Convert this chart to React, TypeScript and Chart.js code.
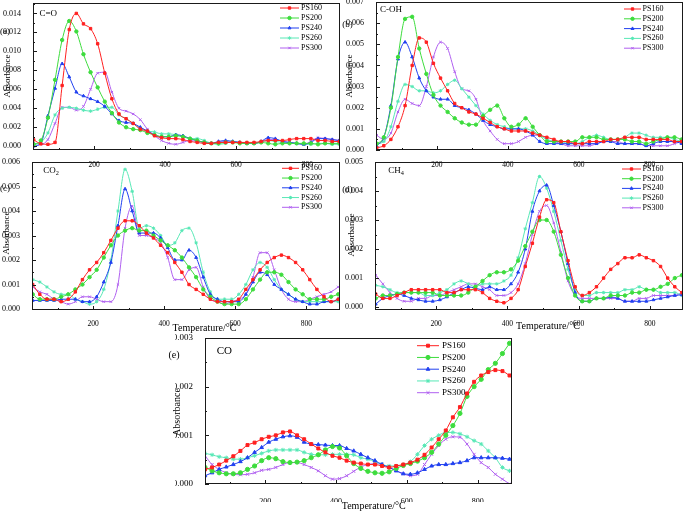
import { useEffect, useRef } from "react";
import { Chart, registerables } from "chart.js";
import { drawPoint } from "chart.js/helpers";

Chart.register(...registerables);

const FONT = '"Liberation Serif", "Times New Roman", serif';
Chart.defaults.font.family = FONT;
Chart.defaults.color = "#000";

// temperature grid (°C)
const temps = [
  30, 50, 70, 90, 110, 130, 150, 170, 190, 210, 230,
  250, 270, 290, 310, 330, 350, 370, 390, 410, 430, 450,
  470, 490, 510, 530, 550, 570, 590, 610, 630, 650, 670,
  690, 710, 730, 750, 770, 790, 810, 830, 850, 870, 890,
];

const seriesNames = ["PS160", "PS200", "PS240", "PS260", "PS300"];
const seriesColors = ["#ff2020", "#3ddc3d", "#2040f0", "#58e8b6", "#b060f0"];
const markerStyles = ["rect", "circle", "triangle", "star", "crossRot"];
const xTickLabels = [200, 400, 600, 800];

// (a) C=O
const coRed = [
  .00067, .00025, .0002, .0004, .0064, .0123, .0140, .0129, .0124, .0108, .0077,
  .0050, .0034, .0029, .0024, .0018, .0016, .0011, .0009, .0008, .0008, .0007,
  .0005, .0004, .0003, .0003, .0004, .0004, .0004, .0004, .0004, .0004, .0005,
  .0006, .0006, .0006, .0007, .0008, .0008, .0008, .0006, .0006, .0005, .0005,
];
const coGreen = [
  .0002, .0006, .0030, .0070, .0112, .0132, .0121, .0097, .0078, .0062, .0047,
  .0035, .0025, .0020, .0018, .0017, .0014, .0012, .0010, .0010, .0011, .0010,
  .0008, .0006, .0004, .0003, .0003, .0004, .0004, .0003, .0003, .0003, .0004,
  .0003, .0002, .0003, .0003, .0003, .0003, .0003, .0002, .0003, .0003, .0003,
];
const coBlue = [
  .0000, .0003, .0032, .0061, .0087, .0073, .0057, .0053, .0050, .0047, .0042,
  .0034, .0027, .0025, .0024, .0020, .0016, .0012, .0010, .0010, .0012, .0011,
  .0008, .0006, .0004, .0003, .0005, .0006, .0005, .0004, .0003, .0003, .0005,
  .0009, .0008, .0005, .0004, .0003, .0002, .0004, .0008, .0008, .0007, .0006,
];
const coCyan = [
  .0002, .0004, .0014, .0033, .0040, .0041, .0040, .0038, .0037, .0039, .0041,
  .0041, .0033, .0029, .0024, .0019, .0016, .0015, .0013, .0013, .0012, .0010,
  .0008, .0008, .0006, .0003, .0002, .0003, .0005, .0004, .0003, .0003, .0004,
  .0006, .0005, .0004, .0003, .0003, .0002, .0002, .0003, .0003, .0002, .0002,
];
const coViolet = [
  .0003, .0002, .0007, .0024, .0041, .0041, .0038, .0042, .0060, .0077, .0078,
  .0057, .0040, .0037, .0034, .0028, .0018, .0011, .0006, .0003, .0002, .0004,
  .0006, .0005, .0004, .0003, .0004, .0005, .0004, .0004, .0003, .0003, .0005,
  .0007, .0007, .0005, .0004, .0003, .0002, .0005, .0009, .0008, .0007, .0006,
];

// (b) C-OH
const ohRed = [
  .0001, .0002, .0005, .0011, .0021, .0040, .0053, .0051, .0041, .0034, .0028,
  .0022, .0020, .0018, .0017, .0015, .0013, .0011, .0010, .0009, .0009, .0009,
  .0008, .0007, .0006, .0005, .0004, .0004, .0003, .0003, .0004, .0004, .0004,
  .0005, .0005, .0006, .0006, .0006, .0005, .0005, .0005, .0005, .0004, .0004,
];
const ohGreen = [
  .0003, .0006, .0020, .0044, .0062, .0063, .0048, .0036, .0026, .0021, .0018,
  .0015, .0013, .0012, .0012, .0016, .0019, .0021, .0015, .0011, .0012, .0015,
  .0011, .0007, .0004, .0004, .0004, .0004, .0004, .0006, .0006, .0006, .0005,
  .0005, .0005, .0005, .0004, .0004, .0003, .0004, .0005, .0006, .0006, .0005,
];
const ohBlue = [
  .0002, .0006, .0021, .0043, .0051, .0044, .0034, .0028, .0025, .0024, .0024,
  .0021, .0020, .0019, .0017, .0014, .0012, .0011, .0010, .0010, .0010, .0009,
  .0007, .0004, .0003, .0003, .0003, .0003, .0003, .0003, .0003, .0003, .0004,
  .0004, .0003, .0003, .0003, .0003, .0002, .0003, .0004, .0004, .0004, .0003,
];
const ohCyan = [
  .0003, .0004, .0011, .0023, .0031, .0030, .0028, .0028, .0027, .0028, .0031,
  .0033, .0029, .0025, .0021, .0017, .0014, .0012, .0011, .0010, .0010, .0010,
  .0009, .0007, .0005, .0004, .0004, .0003, .0003, .0004, .0006, .0007, .0006,
  .0005, .0005, .0006, .0008, .0008, .0007, .0006, .0006, .0006, .0005, .0004,
];
const ohViolet = [
  .0007, .0005, .0008, .0018, .0024, .0022, .0021, .0030, .0044, .0051, .0048,
  .0037, .0029, .0028, .0024, .0014, .0009, .0005, .0003, .0003, .0004, .0006,
  .0007, .0007, .0005, .0004, .0003, .0002, .0002, .0002, .0002, .0003, .0004,
  .0004, .0004, .0003, .0003, .0003, .0002, .0002, .0002, .0002, .0003, .0004,
];

// (c) CO2
const c2Red = [
  .0010, .0006, .0004, .0004, .0003, .0004, .0007, .0012, .0016, .0019, .0023,
  .0028, .0033, .0036, .0036, .0034, .0031, .0029, .0026, .0023, .0019, .0015,
  .0010, .0008, .0006, .0004, .0003, .0003, .0003, .0004, .0008, .0012, .0016,
  .0019, .0021, .0022, .0021, .0019, .0016, .0012, .0008, .0005, .0003, .0004,
];
const c2Green = [
  .0006, .0004, .0004, .0004, .0005, .0006, .0008, .0010, .0013, .0016, .0021,
  .0026, .0030, .0032, .0033, .0032, .0032, .0030, .0028, .0026, .0024, .0021,
  .0017, .0013, .0008, .0005, .0003, .0002, .0002, .0002, .0004, .0008, .0012,
  .0015, .0015, .0014, .0011, .0008, .0006, .0004, .0004, .0004, .0005, .0006,
];
const c2Blue = [
  .00035, .00035, .00035, .00035, .0004, .0004, .0004, .0003, .0003, .0005, .0011,
  .0019, .0034, .0049, .0040, .0031, .0031, .0031, .0029, .0025, .0020, .0020,
  .0024, .0021, .0013, .0006, .0004, .0003, .0003, .0003, .0006, .0011, .0015,
  .0014, .0010, .0008, .0006, .0004, .0003, .0002, .0002, .0003, .0003, .0004,
];
const c2Cyan = [
  .0012, .0011, .0009, .0007, .0006, .0006, .0004, .0003, .0002, .0003, .0008,
  .0020, .0040, .0057, .0048, .0033, .0034, .0033, .0030, .0026, .0027, .0032,
  .0033, .0027, .0015, .0007, .0004, .0004, .0004, .0006, .0010, .0016, .0019,
  .0017, .0012, .0008, .0006, .0004, .0003, .0003, .0003, .0003, .0003, .0003,
];
const c2Violet = [
  .0009, .0007, .0006, .0004, .0003, .0002, .0003, .0005, .0005, .0004, .0003,
  .0003, .0010, .0033, .0042, .0030, .0030, .0029, .0027, .0021, .0012, .0012,
  .0016, .0017, .0009, .0004, .0003, .0002, .0003, .0004, .0006, .0013, .0023,
  .0023, .0016, .0008, .0004, .0003, .0003, .0004, .0005, .0006, .0007, .0009,
];

// (d) CH4
const c4Red = [
  .00045, .0003, .0003, .0004, .0005, .0006, .0006, .0006, .0006, .0006, .0005,
  .0005, .0006, .0006, .0006, .0005, .0003, .0002, .00015, .0003, .0006, .0014,
  .0022, .0031, .0037, .0036, .0026, .0016, .0007, .0004, .0005, .0007, .0010,
  .0013, .0015, .0017, .0017, .0018, .0017, .0016, .0014, .0010, .0007, .0005,
];
const c4Green = [
  .0003, .0004, .0004, .00045, .0005, .0005, .0005, .0005, .0005, .0004, .0004,
  .0004, .0004, .0005, .0007, .0009, .0011, .0012, .0012, .0013, .0016, .0021,
  .0026, .0030, .0030, .0026, .0018, .0010, .0004, .0002, .0002, .0003, .0003,
  .0004, .0004, .0004, .0005, .0005, .0006, .0006, .0007, .0008, .0010, .0011,
];
const c4Blue = [
  .0001, .0003, .0004, .00045, .0004, .0003, .00025, .0002, .0002, .00025, .00035,
  .0005, .0006, .0007, .00065, .0006, .0007, .0006, .0006, .0008, .0012, .0020,
  .0033, .0040, .0042, .0035, .0026, .0015, .0005, .0002, .0002, .0003, .0003,
  .00035, .0003, .0002, .0002, .0002, .0002, .00025, .0003, .00035, .0004, .00042,
];
const c4Cyan = [
  .00075, .0007, .0006, .0005, .0005, .0005, .0005, .0004, .0004, .0005, .0006,
  .0008, .0009, .0008, .0007, .0008, .0008, .0008, .0009, .0011, .0017, .0027,
  .0036, .0045, .0041, .0033, .0023, .0013, .0006, .0004, .0004, .0005, .0005,
  .0005, .0005, .0006, .0006, .0007, .0006, .0006, .0005, .0005, .0005, .0004,
];
const c4Violet = [
  .0011, .0008, .0005, .0003, .0002, .0002, .0003, .0003, .0004, .0004, .0005,
  .0006, .0007, .0008, .0008, .0007, .0006, .0004, .0004, .0005, .0008, .0015,
  .0025, .0033, .0035, .0029, .0019, .0009, .0004, .0003, .0003, .0003, .0003,
  .0003, .0003, .0002, .0002, .0003, .0003, .0004, .0004, .0004, .0004, .0005,
];

// (e) CO
const cRed = [
  .0003, .00034, .0004, .00048, .00057, .00068, .0008, .00085, .00092, .00097, .0010,
  .00106, .00108, .0010, .00092, .00082, .00073, .00065, .00058, .00054, .00048, .00044,
  .00042, .0004, .0004, .00037, .00034, .00037, .0004, .00044, .0005, .0006, .00075,
  .00092, .0011, .00137, .00158, .00186, .0021, .00223, .0023, .00234, .00232, .00223,
];
const cGreen = [
  .00034, .00027, .00023, .00021, .00021, .00023, .0003, .00037, .00048, .00054, .00052,
  .00046, .00044, .00045, .00048, .00054, .0006, .0007, .00077, .00074, .00058, .00042,
  .00032, .00026, .00023, .00022, .00025, .00032, .00038, .00042, .00047, .00054, .00065,
  .00082, .0010, .0012, .00145, .0018, .0020, .00215, .00235, .00248, .00268, .00289,
];
const cBlue = [
  .00017, .00023, .0003, .00035, .0004, .00046, .00054, .00065, .00075, .00086, .00092,
  .00097, .00099, .00096, .00086, .00082, .00081, .0008, .00079, .00079, .00073, .00068,
  .00061, .00054, .00048, .0004, .00034, .00027, .00021, .0002, .00023, .0003, .00037,
  .0004, .0004, .00042, .00044, .00048, .00054, .00054, .00054, .00054, .00053, .00051,
];
const cCyan = [
  .00063, .0006, .00056, .00054, .00051, .00051, .00054, .00058, .00063, .00068, .0007,
  .0007, .0007, .0007, .00065, .00061, .0006, .0006, .00061, .00061, .00061, .0006,
  .00054, .00051, .00046, .0004, .00037, .00037, .0004, .00046, .00061, .00079, .00092,
  .0010, .00106, .00106, .00103, .00097, .00089, .00082, .00068, .00054, .00034, .00027,
];
const cViolet = [
  .00058, .0004, .0003, .00023, .0002, .00019, .0002, .00023, .00028, .0003, .00034,
  .0004, .00044, .00044, .0004, .00034, .00027, .00017, .0001, .00011, .00017, .00026,
  .00035, .0004, .00042, .0004, .00034, .00028, .00021, .00017, .0002, .0004, .00061,
  .00079, .00092, .00097, .00096, .00082, .00061, .00044, .00034, .0002, .0001, .0,
];

const Y_W = 30;
const PAD_R = 4;
const PAD_T = 8;
const X_H = 18;

type Legend = { dx: number; len: number; gap: number; dy0: number; row: number; size: number };
type Panel = {
  box: number[]; // left, top, right, bottom of the plot area
  xMin: number; xMax: number;
  yMin: number; yMax: number; yMinor: number; yMajor: number;
  series: number[][];
  tickSize: number; xTickSize: number; xPad: number;
  radius: number;
  legend: Legend;
};

const panels: Panel[] = [
  {
    box: [33, 3, 341, 150], xMin: 28, xMax: 892,
    yMin: -0.0004, yMax: 0.0151, yMinor: 0.001, yMajor: 0.002,
    series: [coRed, coGreen, coBlue, coCyan, coViolet],
    tickSize: 8, xTickSize: 7.5, xPad: 3, radius: 1.7,
    legend: { dx: 60, len: 19, gap: 2, dy0: 5, row: 10, size: 8 },
  },
  {
    box: [376, 2, 684, 150], xMin: 28, xMax: 894,
    yMin: 0, yMax: 0.007, yMinor: 0.0005, yMajor: 0.001,
    series: [ohRed, ohGreen, ohBlue, ohCyan, ohViolet],
    tickSize: 8, xTickSize: 7.5, xPad: 3, radius: 1.7,
    legend: { dx: 59, len: 17, gap: 1.5, dy0: 7, row: 9.8, size: 8 },
  },
  {
    box: [32, 162, 341, 310], xMin: 28, xMax: 895,
    yMin: -0.00004, yMax: 0.006, yMinor: 0.0005, yMajor: 0.001,
    series: [c2Red, c2Green, c2Blue, c2Cyan, c2Violet],
    tickSize: 8, xTickSize: 7.5, xPad: 2, radius: 1.7,
    legend: { dx: 58, len: 17, gap: 2, dy0: 6.3, row: 9.75, size: 8 },
  },
  {
    box: [375, 162, 684, 310], xMin: 28, xMax: 893,
    yMin: -0.0001, yMax: 0.005, yMinor: 0.0005, yMajor: 0.001,
    series: [c4Red, c4Green, c4Blue, c4Cyan, c4Violet],
    tickSize: 8, xTickSize: 7.5, xPad: 1.5, radius: 1.7,
    legend: { dx: 61, len: 19, gap: 1.5, dy0: 7, row: 9.7, size: 8 },
  },
  {
    box: [205, 338, 513, 484], xMin: 30, xMax: 897,
    yMin: 0, yMax: 0.003, yMinor: 0.0005, yMajor: 0.001,
    series: [cRed, cGreen, cBlue, cCyan, cViolet],
    tickSize: 9, xTickSize: 8, xPad: 5, radius: 2.1,
    legend: { dx: 95, len: 22, gap: 3, dy0: 7.7, row: 11.75, size: 9 },
  },
];

const isMajor = (v: number, step: number) => Math.abs(v / step - Math.round(v / step)) < 1e-6;

// box around the plot with short inward ticks (major and minor)
const framePlugin = (p: Panel) => ({
  id: "frame",
  afterDatasetsDraw(chart: any) {
    const { ctx, chartArea: a } = chart;
    const xs = chart.scales.x;
    const ys = chart.scales.y;
    ctx.save();
    ctx.strokeStyle = "#1a1a1a";
    ctx.lineWidth = 1;
    ctx.strokeRect(a.left + 0.5, a.top + 0.5, a.right - a.left - 1, a.bottom - a.top - 1);
    ctx.beginPath();
    xs.ticks.forEach((tk: any) => {
      const px = Math.round(xs.getPixelForValue(tk.value)) + 0.5;
      const len = xTickLabels.includes(tk.value) ? 4 : 2;
      ctx.moveTo(px, a.bottom);
      ctx.lineTo(px, a.bottom - len);
    });
    ys.ticks.forEach((tk: any) => {
      const py = Math.round(ys.getPixelForValue(tk.value)) + 0.5;
      const len = isMajor(tk.value, p.yMajor) ? 4 : 2;
      ctx.moveTo(a.left, py);
      ctx.lineTo(a.left + len, py);
    });
    ctx.stroke();
    ctx.restore();
  },
});

// legend drawn inside the plot, top right, one row per series
const legendPlugin = (p: Panel) => ({
  id: "insideLegend",
  afterDraw(chart: any) {
    const { ctx, chartArea: a } = chart;
    const g = p.legend;
    ctx.save();
    ctx.font = `${g.size}px ${FONT}`;
    ctx.textBaseline = "middle";
    ctx.textAlign = "left";
    chart.data.datasets.forEach((ds: any, i: number) => {
      const x0 = a.right - g.dx;
      const y = a.top + g.dy0 + i * g.row;
      ctx.strokeStyle = ds.borderColor;
      ctx.fillStyle = ds.backgroundColor;
      ctx.lineWidth = 1;
      ctx.beginPath();
      ctx.moveTo(x0, y);
      ctx.lineTo(x0 + g.len, y);
      ctx.stroke();
      drawPoint(ctx, { pointStyle: ds.pointStyle, radius: p.radius, borderWidth: 1, rotation: 0 }, x0 + g.len / 2, y);
      ctx.fillStyle = "#000";
      ctx.fillText(ds.label, x0 + g.len + g.gap, y);
    });
    ctx.restore();
  },
});

function ChartPanel({ p }: { p: Panel }) {
  const canvasRef: any = useRef(null);
  const [l, t, r, b] = p.box;
  const width = Y_W + (r - l) + PAD_R;
  const height = PAD_T + (b - t) + X_H;

  useEffect(() => {
    const ctx = canvasRef.current.getContext("2d");
    const chart = new Chart(ctx, {
      type: "line",
      data: {
        datasets: p.series.map((vals, i) => ({
          label: seriesNames[i],
          data: vals.map((y, k) => ({ x: temps[k], y })),
          borderColor: seriesColors[i],
          backgroundColor: seriesColors[i],
          borderWidth: 1,
          pointStyle: markerStyles[i] as any,
          pointRadius: p.radius,
          pointBorderWidth: 1,
          cubicInterpolationMode: "monotone" as const,
        })),
      },
      options: {
        responsive: false,
        animation: false,
        events: [],
        layout: { padding: { left: 0, right: PAD_R, top: PAD_T, bottom: 0 } },
        plugins: { legend: { display: false }, tooltip: { enabled: false } },
        scales: {
          x: {
            type: "linear",
            min: p.xMin,
            max: p.xMax,
            grid: { display: false },
            border: { display: false },
            ticks: {
              stepSize: 100,
              includeBounds: false,
              autoSkip: false,
              maxRotation: 0,
              padding: p.xPad,
              font: { size: p.xTickSize, family: FONT },
              color: "#000",
              callback: (v: any) => (xTickLabels.includes(v) ? String(v) : ""),
            },
            afterFit: (s: any) => {
              s.height = X_H;
              s.paddingLeft = 0;
              s.paddingRight = 0;
            },
          },
          y: {
            type: "linear",
            min: p.yMin,
            max: p.yMax,
            grid: { display: false },
            border: { display: false },
            ticks: {
              stepSize: p.yMinor,
              includeBounds: false,
              autoSkip: false,
              padding: 4,
              font: { size: p.tickSize, family: FONT },
              color: "#000",
              callback: (v: any) =>
                isMajor(v, p.yMajor) && v <= p.yMax + 1e-9 ? Number(v).toFixed(3) : "",
            },
            afterFit: (s: any) => {
              s.width = Y_W;
              s.paddingTop = 0;
              s.paddingBottom = 0;
            },
          },
        },
      },
      plugins: [framePlugin(p), legendPlugin(p)],
    });
    return () => {
      chart.destroy();
    };
  }, []);

  return (
    <canvas
      ref={canvasRef}
      width={width}
      height={height}
      style={{ position: "absolute", left: l - Y_W, top: t - PAD_T, width, height }}
    />
  );
}

function Txt({ x, y, size, children, rotate = false, left = false }: any) {
  const tr = left ? "translate(0, -50%)" : "translate(-50%, -50%)";
  return (
    <div
      style={{
        position: "absolute",
        left: x,
        top: y,
        fontSize: size,
        lineHeight: 1,
        whiteSpace: "nowrap",
        transform: rotate ? `${tr} rotate(-90deg)` : tr,
      }}
    >
      {children}
    </div>
  );
}

const sub = { fontSize: "0.7em", verticalAlign: "-0.25em" };

export default function App() {
  return (
    <div
      style={{
        position: "fixed",
        left: 0,
        top: 0,
        width: 685,
        height: 511,
        background: "#fff",
        overflow: "hidden",
        fontFamily: FONT,
        color: "#000",
      }}
    >
      {panels.map((p, i) => (
        <ChartPanel key={i} p={p} />
      ))}

      <Txt x={5} y={31} size={9}>(a)</Txt>
      <Txt x={347.5} y={24} size={9}>(b)</Txt>
      <Txt x={5} y={187.5} size={9}>(c)</Txt>
      <Txt x={347.5} y={189} size={9}>(d)</Txt>
      <Txt x={174} y={355} size={10}>(e)</Txt>

      <Txt x={7} y={76} size={9} rotate>Absorbance</Txt>
      <Txt x={349} y={76} size={9} rotate>Absorbance</Txt>
      <Txt x={6} y={233} size={9} rotate>Absorbance</Txt>
      <Txt x={351} y={235} size={9} rotate>Absorbance</Txt>
      <Txt x={177} y={412} size={10} rotate>Absorbance</Txt>

      <Txt x={204.5} y={327.5} size={10}>Temperature/°C</Txt>
      <Txt x={548} y={325.5} size={10}>Temperature/°C</Txt>
      <Txt x={373.7} y={505.5} size={10}>Temperature/°C</Txt>

      <Txt x={39.5} y={12.5} size={9} left>C=O</Txt>
      <Txt x={380} y={9} size={9} left>C-OH</Txt>
      <Txt x={43.3} y={171} size={9} left>
        CO<span style={sub}>2</span>
      </Txt>
      <Txt x={388.3} y={171} size={9} left>
        CH<span style={sub}>4</span>
      </Txt>
      <Txt x={216.7} y={349.5} size={11} left>CO</Txt>
    </div>
  );
}
